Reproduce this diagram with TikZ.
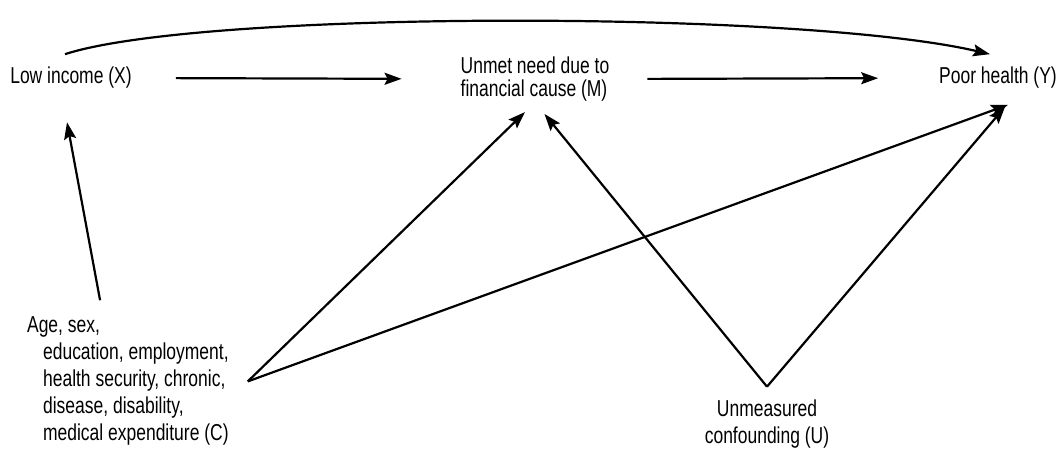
\documentclass[tikz,border=0pt]{standalone}
\usepackage{fontspec}
\setmainfont[FakeStretch=0.76]{Liberation Sans}
\usetikzlibrary{arrows.meta}
\begin{document}
\begin{tikzpicture} [x=1pt, y=-1pt, -{Stealth[length=17pt, width=12pt, inset=3pt]}, line width = 2.2pt, font=\fontsize{23}{23}\selectfont, every node/.style={inner sep=0pt}]
\useasboundingbox (0,0) rectangle (1060,448);

\node at (71,78) (x) {Low income (X)};
\node at (535,79) [align=left] (m) {Unmet need due to\\financial cause (M)};
\node at (998,78) (y) {Poor health (Y)};
\node at (26,316) [anchor=north west, align=left, font=\fontsize{23}{27}\selectfont] (c) {Age, sex,\\\hspace*{16pt}education, employment,\\\hspace*{16pt}health security, chronic,\\\hspace*{16pt}disease, disability,\\\hspace*{16pt}medical expenditure (C)};
\node at (767,424) [align=center, font=\fontsize{23}{27}\selectfont] (u) {Unmeasured\\confounding (U)};

\coordinate (ca) at ([xshift=18pt]c.east);
\coordinate (ua) at ([shift={(0,-12)}]u.north);

\path (x.east) edge [shorten <=43pt, shorten >=58pt] (m.west);
\path (m.east) edge [shorten <=37pt, shorten >=60pt] (y.west);
\draw ([shift={(-6,-12)}]x.north) .. controls (200,10) and (800,10) .. ([shift={(-8,-12)}]y.north);

\path ([xshift=77pt]c.north west) edge [shorten <=16pt, shorten >=33pt] ([xshift=-10pt]x.south);
\path (ca) edge [shorten >=14pt] (m.south);
\path (ca) edge ([shift={(10,15)}]y.south);
\path (ua) edge [shorten >=15pt] (m.south);
\path (ua) edge ([shift={(7,17)}]y.south);

\end{tikzpicture}
\end{document}
